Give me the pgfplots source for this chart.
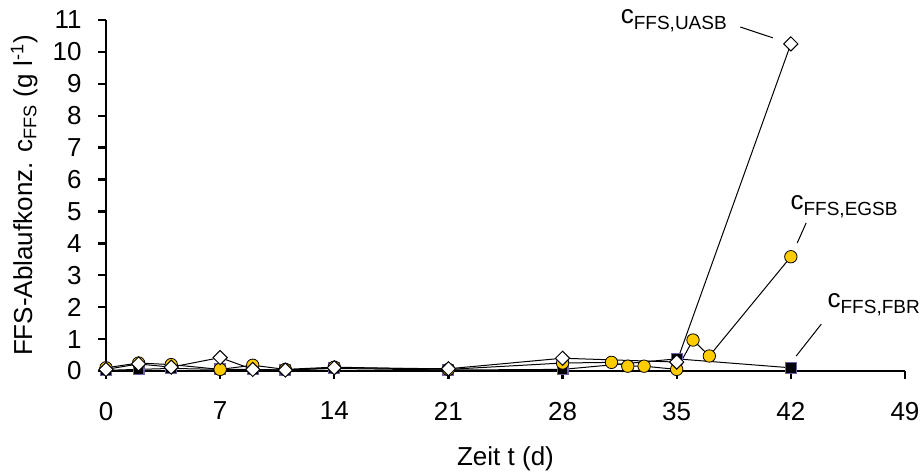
\documentclass[border=0pt]{standalone}
\usepackage{fontspec}
\setmainfont{Liberation Sans}
\usepackage{pgfplots}
\pgfplotsset{compat=1.18}

\definecolor{egsb}{RGB}{255,204,0}
\definecolor{fbredge}{RGB}{112,96,160}

\newcommand{\cl}[1]{{\fontsize{13}{15}\selectfont c}\raisebox{-3pt}{\fontsize{9.5}{11}\selectfont #1}}

\begin{document}
\begin{tikzpicture}
\begin{axis}[
  at={(0,0)}, anchor=south west,
  scale only axis, width=399.5pt, height=175.5pt,
  xmin=0, xmax=49, ymin=0, ymax=11,
  xtick={0,7,...,49}, ytick={0,1,...,11},
  axis lines=left, axis line style={-, line width=1.2pt},
  tick style={black, line width=1.2pt}, major tick length=4pt, tick align=outside,
  font=\fontsize{13}{15.6}\selectfont,
  /pgf/number format/assume math mode=true,
  xticklabel style={yshift=-8pt},
  yticklabel style={xshift=-4.7pt},
  xlabel={Zeit t (d)},
  xlabel style={at={(axis description cs:0.5,-0.268)}, anchor=base},
  ylabel={FFS-Ablaufkonz. c\textsubscript{FFS} (g l\textsuperscript{-1})},
  ylabel style={at={(axis description cs:-0.0926,0.5)}, anchor=base},
  clip=false,
]
% FBR
\addplot[black, line width=0.5pt, mark=square*, mark size=2.7pt,
  mark options={fill=black, draw=fbredge, line width=0.6pt}]
  coordinates {(0,0.02) (2,0.05) (4,0.08) (7,0.05) (9,0.05) (11,0.03) (14,0.08) (21,0.03) (28,0.05) (35,0.38) (42,0.1)};
% EGSB
\addplot[black, line width=0.5pt, mark=*, mark size=3.1pt,
  mark options={fill=egsb, draw=black, line width=0.4pt}]
  coordinates {(0,0.1) (2,0.25) (4,0.2) (7,0.05) (9,0.18) (11,0.05) (14,0.12) (21,0.05) (28,0.25) (31,0.27) (32,0.15) (33,0.15) (35,0.05) (36,0.97) (37,0.47) (42,3.58)};
% UASB
\addplot[black, line width=0.5pt, mark=square*, mark size=2.5pt,
  mark options={rotate=45, fill=white, draw=black, line width=0.5pt}]
  coordinates {(0,0.05) (2,0.22) (4,0.12) (7,0.42) (9,0.05) (11,0.03) (14,0.1) (21,0.07) (28,0.4) (35,0.28) (42,10.25)};

\node[anchor=base west, inner sep=0] at (axis cs:31.55,10.88) {\cl{FFS,UASB}};
\draw[line width=0.5pt] (axis cs:38.9,10.78) -- (axis cs:40.9,10.44);
\node[anchor=base west, inner sep=0] at (axis cs:41.96,5.05) {\cl{FFS,EGSB}};
\draw[line width=0.5pt] (axis cs:42.94,4.64) -- (axis cs:42.39,4.01);
\node[anchor=base west, inner sep=0] at (axis cs:44.23,2.0) {\cl{FFS,FBR}};
\draw[line width=0.5pt] (axis cs:43.87,1.47) -- (axis cs:42.33,0.47);
\end{axis}
\pgfresetboundingbox
\path (-53pt,-51.5pt) rectangle (408pt,185.5pt);
\end{tikzpicture}
\end{document}
